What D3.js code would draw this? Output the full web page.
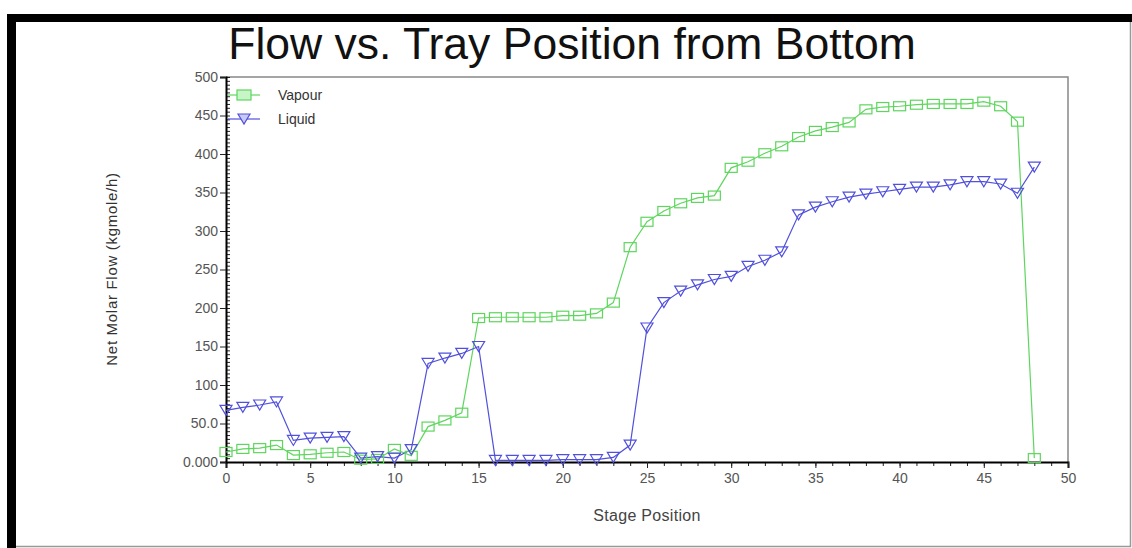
<!DOCTYPE html>
<html>
<head>
<meta charset="utf-8">
<script src="https://cdn.jsdelivr.net/npm/d3@7"></script>
<style>
  body { margin: 0; background: #fff; }
  svg { display: block; font-family: "Liberation Sans", Arial, sans-serif; }
</style>
</head>
<body>
<script>
// stage positions 0..48
var stages = [0,1,2,3,4,5,6,7,8,9,10,11,12,13,14,15,16,17,18,19,20,21,22,23,24,
              25,26,27,28,29,30,31,32,33,34,35,36,37,38,39,40,41,42,43,44,45,46,47,48];
var vapour = [13,17,18,22,9,10,12,13,3,4,17,8,46,54,64,187,188,188,188,188,190,190,193,207,279,
              312,326,336,343,346,382,390,401,410,422,430,435,441,458,461,462,464,465,465,465,468,462,442,5];
var liquid = [67,71,74,78,28,31,32,33,5,7,5,16,128,135,141,150,2,2,2,2,3,3,3,6,22,
              174,207,222,230,237,241,254,262,273,321,331,338,344,348,351,354,357,357,360,364,364,361,349,383];
var xTicks = [0,5,10,15,20,25,30,35,40,45,50];
var yTicks = [0,50,100,150,200,250,300,350,400,450,500];
var yTickLabels = ["0.000","50.0","100","150","200","250","300","350","400","450","500"];

drawChart();

function drawChart()
{
    var width = 1132, height = 548;
    var plotLeft = 226, plotRight = 1068, plotTop = 77, plotBottom = 462;
    var green = "#5ed65e", blue = "#5050dc";

    var svg = d3.select("body").append("svg")
        .attr("width", width).attr("height", height);

    // frame: thick black top/left, thin grey right/bottom
    svg.append("rect").attr("x", 7).attr("y", 14).attr("width", width - 7).attr("height", 8).attr("fill", "#000");
    svg.append("rect").attr("x", 7).attr("y", 14).attr("width", 9).attr("height", height - 14).attr("fill", "#000");
    svg.append("line").attr("x1", 1130.5).attr("x2", 1130.5).attr("y1", 22).attr("y2", 547)
        .attr("stroke", "#999").attr("stroke-width", 1.5);
    svg.append("line").attr("x1", 16).attr("x2", 1131).attr("y1", 546.5).attr("y2", 546.5)
        .attr("stroke", "#999").attr("stroke-width", 1.5);

    svg.append("text").attr("x", 572).attr("y", 59).attr("text-anchor", "middle")
        .attr("font-size", 44.5).attr("fill", "#111").text("Flow vs. Tray Position from Bottom");

    var xScale = d3.scaleLinear().domain([0, 50]).range([plotLeft, plotRight]);
    var yScale = d3.scaleLinear().domain([0, 500]).range([plotBottom, plotTop]);

    // plot box top/right in grey
    svg.append("path")
        .attr("d", "M" + plotLeft + "," + plotTop + "H" + plotRight + "V" + plotBottom)
        .attr("fill", "none").attr("stroke", "#888").attr("stroke-width", 1.5);

    // minor ticks
    var xMinor = svg.append("g").attr("transform", "translate(0," + plotBottom + ")")
        .call(d3.axisBottom(xScale).ticks(50).tickSize(4).tickFormat(""));
    xMinor.select(".domain").remove();
    var yMinor = svg.append("g").attr("transform", "translate(" + plotLeft + ",0)")
        .call(d3.axisRight(yScale).ticks(100).tickSize(4).tickFormat(""));
    yMinor.select(".domain").remove();

    var xAxis = svg.append("g").attr("transform", "translate(0," + plotBottom + ")")
        .call(d3.axisBottom(xScale).tickValues(xTicks).tickSize(6).tickPadding(5).tickFormat(d3.format("d")));
    var yAxis = svg.append("g").attr("transform", "translate(" + plotLeft + ",0)")
        .call(d3.axisLeft(yScale).tickValues(yTicks).tickSize(6).tickPadding(2)
            .tickFormat(function (d, i) { return yTickLabels[i]; }));
    [xAxis, yAxis].forEach(function (a) {
        a.select(".domain").attr("stroke", "#000").attr("stroke-width", 2);
        a.selectAll("text").attr("font-size", 14).attr("fill", "#555")
            .attr("font-family", "'Liberation Sans', Arial, sans-serif");
    });
    svg.selectAll(".tick line").attr("stroke", "#222");

    svg.append("text").attr("x", 647).attr("y", 521).attr("text-anchor", "middle")
        .attr("font-size", 16).attr("letter-spacing", 0.3).attr("fill", "#444").text("Stage Position");
    svg.append("text").attr("transform", "translate(117,269) rotate(-90)").attr("text-anchor", "middle")
        .attr("font-size", 15).attr("letter-spacing", 0.7).attr("fill", "#333").text("Net Molar Flow (kgmole/h)");

    var line = d3.line()
        .x(function (d) { return xScale(d.x); })
        .y(function (d) { return yScale(d.y); });

    var vData = stages.map(function (s, i) { return {x: s, y: vapour[i]}; });
    var lData = stages.map(function (s, i) { return {x: s, y: liquid[i]}; });

    svg.append("path").attr("d", line(vData)).attr("fill", "none").attr("stroke", green).attr("stroke-width", 1.2);
    svg.append("path").attr("d", line(lData)).attr("fill", "none").attr("stroke", blue).attr("stroke-width", 1.2);

    var tri = "M-6,-5L6,-5L0,5Z";

    svg.append("g").selectAll("rect").data(vData).enter().append("rect")
        .attr("x", function (d) { return xScale(d.x) - 6; })
        .attr("y", function (d) { return yScale(d.y) - 4.5; })
        .attr("width", 12).attr("height", 9)
        .attr("fill", "none").attr("stroke", green).attr("stroke-width", 1.2);
    svg.append("g").selectAll("path").data(lData).enter().append("path")
        .attr("transform", function (d) { return "translate(" + xScale(d.x) + "," + yScale(d.y) + ")"; })
        .attr("d", tri)
        .attr("fill", "none").attr("stroke", blue).attr("stroke-width", 1.2);

    // legend
    var legend = [{name: "Vapour", color: green, y: 95}, {name: "Liquid", color: blue, y: 119}];
    legend.forEach(function (l, i) {
        svg.append("line").attr("x1", 228).attr("x2", 260).attr("y1", l.y).attr("y2", l.y)
            .attr("stroke", l.color).attr("stroke-width", 1.2);
        if (i === 0) {
            svg.append("rect").attr("x", 237).attr("y", l.y - 5).attr("width", 14).attr("height", 10)
                .attr("fill", "#c8f5c8").attr("stroke", l.color).attr("stroke-width", 1.2);
        } else {
            svg.append("path").attr("transform", "translate(244," + l.y + ")").attr("d", tri)
                .attr("fill", "#c8c8f5").attr("stroke", l.color).attr("stroke-width", 1.2);
        }
        svg.append("text").attr("x", 278).attr("y", l.y + 5).attr("font-size", 14).attr("fill", "#333").text(l.name);
    });
}
</script>
</body>
</html>
